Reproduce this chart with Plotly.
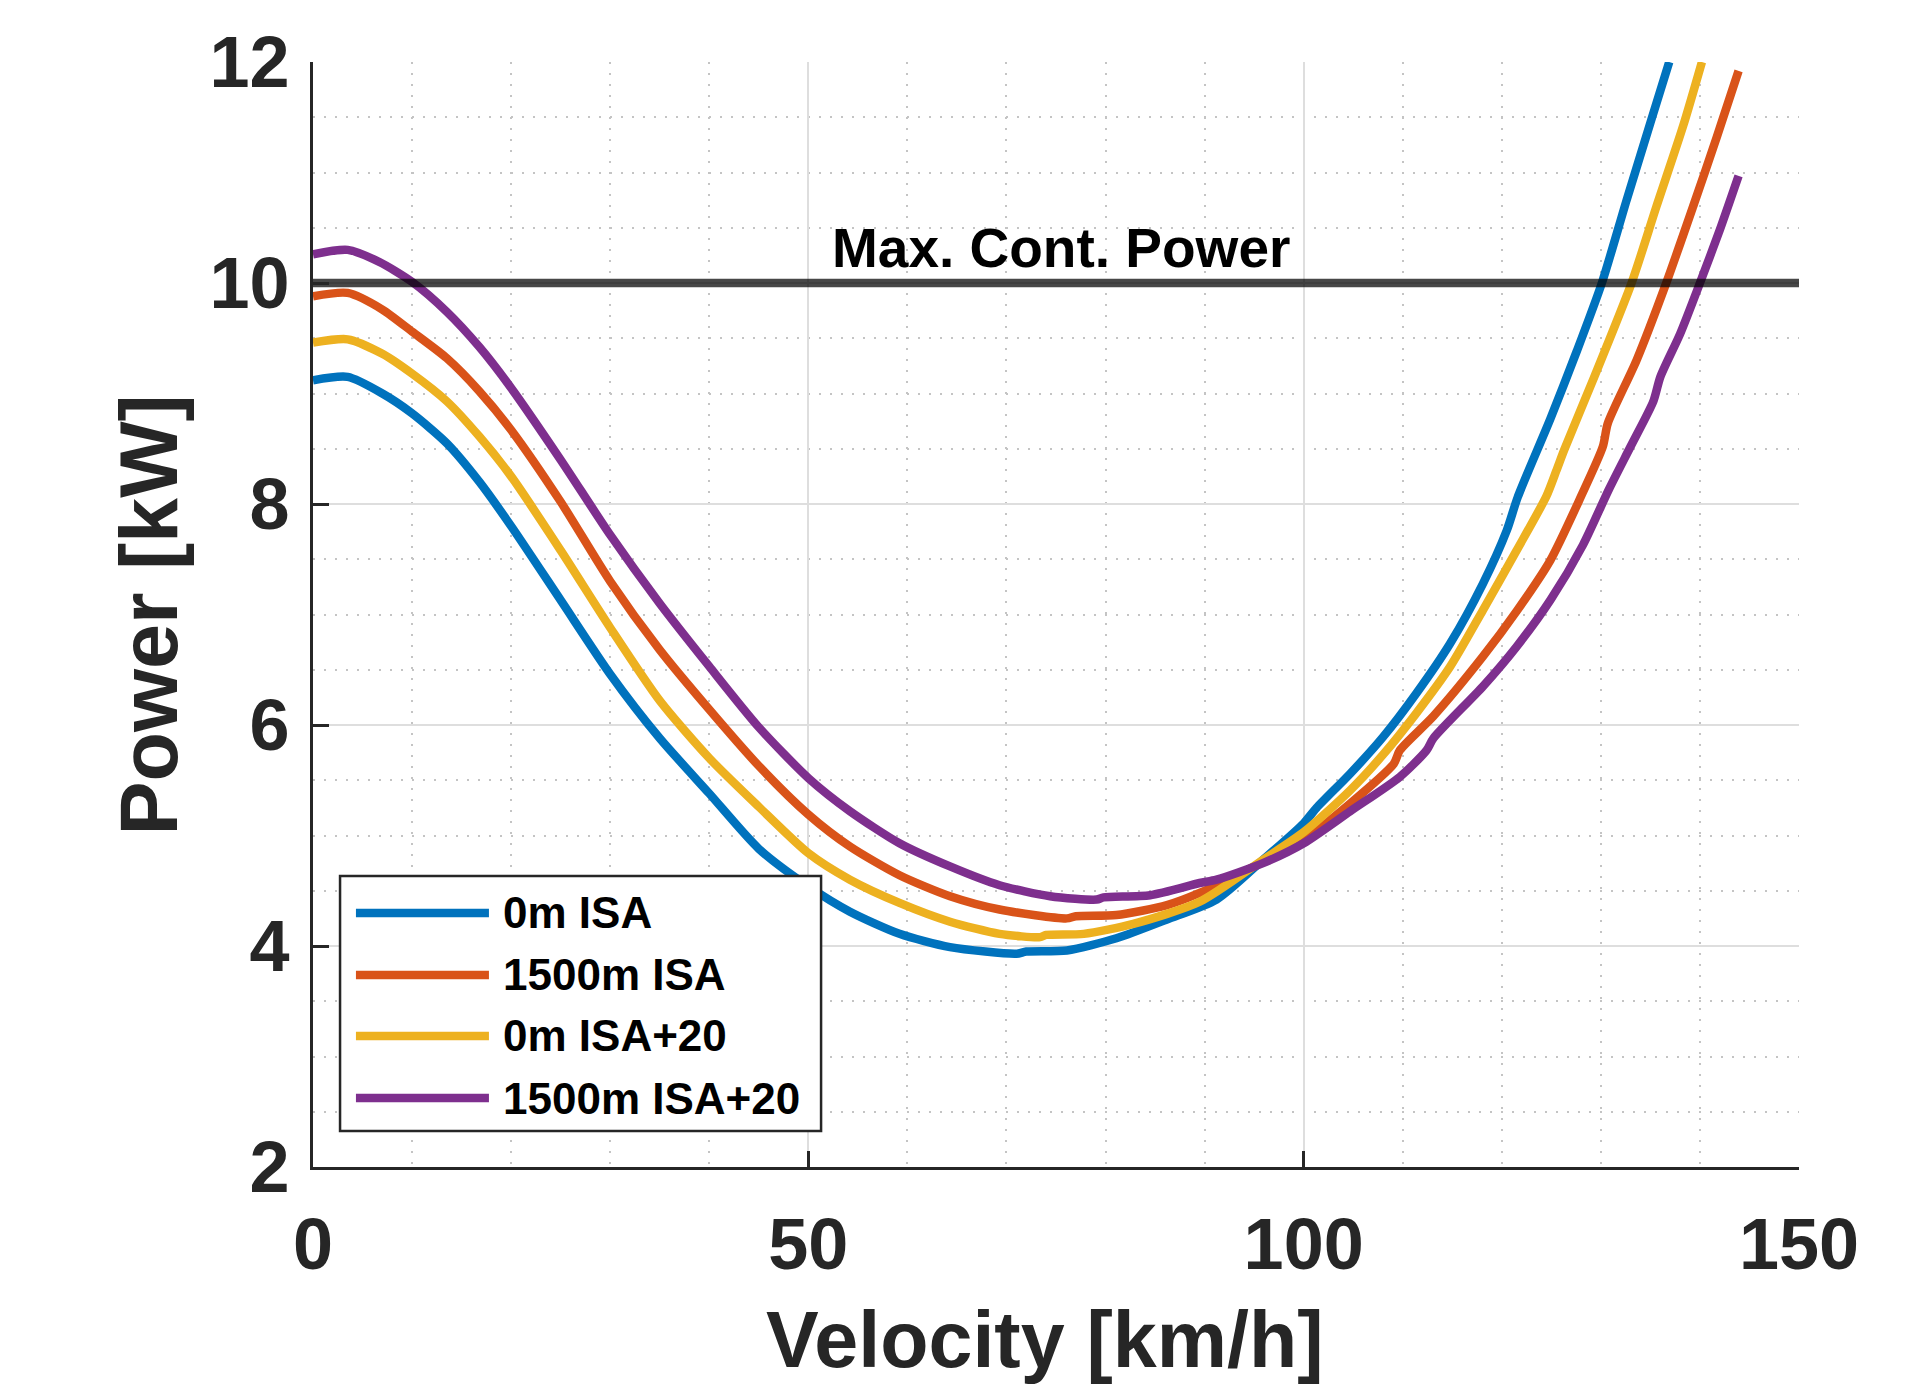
import plotly.graph_objects as go

# ---------------- data ----------------
series_names = ["0m ISA", "1500m ISA", "0m ISA+20", "1500m ISA+20"]
series_colors = ["#0072BD", "#D95319", "#EDB120", "#7E2F8E"]

v_0m_isa = [0, 3.5, 7, 10, 13.5, 16.8, 20, 25, 30, 35, 40, 45, 50,
            54.2, 59.2, 64.3, 71.0, 72.0, 76.1, 81.1, 86.2, 91.2, 95.9, 100, 101.3,
            104.7, 108, 111.4, 114.8, 118.1, 120.5, 121.6, 124.9, 127.6, 130.1,
            132.6, 135.0, 136.9]
p_0m_isa = [9.12, 9.15, 9.00, 8.82, 8.55, 8.20, 7.80, 7.13, 6.46, 5.88, 5.38, 4.88, 4.54,
            4.31, 4.11, 3.99, 3.93, 3.95, 3.96, 4.07, 4.24, 4.42,
            4.78, 5.11, 5.25, 5.56, 5.89, 6.29, 6.74, 7.28, 7.76, 8.06, 8.77, 9.39,
            10.0, 10.75, 11.45, 12.0]

v_1500m_isa = [0, 3.5, 7, 10, 13.5, 16.8, 20, 25, 30, 35, 40, 45,
               50, 54.2, 59.2, 64.3, 69.3, 76.1, 77.0, 81.1, 86.2, 89.5, 95, 100,
               104.7, 109.1, 109.7, 113.1, 118.1, 121.5, 124.9, 128.0, 130.2, 130.7,
               133.6, 136.6, 139.3, 141.7, 143.9]
p_1500m_isa = [9.88, 9.91, 9.76, 9.56, 9.32, 9.02, 8.67, 8.02, 7.30, 6.68, 6.14, 5.63,
               5.19, 4.90, 4.64, 4.45, 4.33, 4.25, 4.27, 4.28, 4.37,
               4.48, 4.72, 4.96, 5.29, 5.65, 5.77, 6.08, 6.62, 7.03, 7.49, 8.07, 8.52,
               8.73, 9.30, 10.0, 10.69, 11.32, 11.92]

v_0m_isa20 = [0, 3.5, 7, 10, 13.5, 16.8, 20, 25, 30, 35, 40, 45, 50,
              54.2, 59.2, 64.3, 69.3, 73.4, 74.0, 77.8, 82.8, 89.5, 95.9, 100, 104.7,
              108, 111.4, 114.8, 118.1, 121.5, 124.5, 125.5, 126.3, 129.2, 133.1,
              135.6, 138.3, 140.2]
p_0m_isa20 = [9.46, 9.49, 9.36, 9.18, 8.93, 8.61, 8.25, 7.58, 6.88, 6.22, 5.70, 5.26,
              4.84, 4.60, 4.39, 4.22, 4.11, 4.08, 4.10, 4.11, 4.20,
              4.40, 4.78, 5.03, 5.41, 5.73, 6.11, 6.53, 7.04, 7.58, 8.07, 8.30, 8.49,
              9.12, 10.0, 10.69, 11.42, 12.0]

v_1500m_isa20 = [0, 3.5, 6.7, 10, 13.5, 16.8, 20, 25, 30, 35, 40, 45,
                 50, 54.2, 59.2, 64.3, 69.3, 74.4, 79.1, 79.8, 84.5, 89.5, 91.2, 95.9,
                 100, 104.7, 109.7, 112.4, 113.1, 118.1, 121.5, 124.9, 128.2, 130.8,
                 133.0, 135.3, 136.0, 138.0, 140.0, 142.0, 143.9]
p_1500m_isa20 = [10.26, 10.30, 10.19, 10.01, 9.74, 9.42, 9.05, 8.40, 7.72,
                 7.10, 6.53, 5.98, 5.52, 5.22, 4.93, 4.72, 4.55, 4.45, 4.42, 4.44,
                 4.46, 4.57, 4.60, 4.75, 4.93, 5.22, 5.53, 5.77, 5.88, 6.35, 6.71, 7.13,
                 7.63, 8.13, 8.52, 8.93, 9.15, 9.54, 10.0, 10.48, 10.97]

max_power_v = [0, 150]
max_power_p = [10, 10]
max_power_label = "Max. Cont. Power"
max_power_label_pos = (75.5, 10.32)

x_ticks = [0, 50, 100, 150]
y_ticks = [2, 4, 6, 8, 10, 12]
x_title = "Velocity [km/h]"
y_title = "Power [kW]"

series_v = [v_0m_isa, v_1500m_isa, v_0m_isa20, v_1500m_isa20]
series_p = [p_0m_isa, p_1500m_isa, p_0m_isa20, p_1500m_isa20]

# ---------------- figure ----------------
FONT = "Liberation Sans, Arial, Helvetica, sans-serif"
AXC = "#262626"
LW = 8.5

fig = go.Figure()
for name, v, p, c in zip(series_names, series_v, series_p, series_colors):
    fig.add_trace(go.Scatter(x=v, y=p, mode="lines", name=name,
                             line=dict(color=c, width=LW, shape="spline", smoothing=0.7),
                             showlegend=False))

fig.add_trace(go.Scatter(x=max_power_v, y=max_power_p, mode="lines",
                         line=dict(color="rgba(0,0,0,0.72)", width=8.5),
                         showlegend=False, name=max_power_label))

fig.add_annotation(x=max_power_label_pos[0], y=max_power_label_pos[1],
                   xref="x", yref="y", text=max_power_label, showarrow=False,
                   font=dict(family=FONT, size=55, color="black", weight="bold"))

# manual legend (MATLAB style: long line samples)
L_X0, L_X1, L_Y0, L_Y1 = 0.0182, 0.3419, 0.0326, 0.2633
fig.add_shape(type="rect", xref="paper", yref="paper", x0=L_X0, x1=L_X1, y0=L_Y0, y1=L_Y1,
              line=dict(color=AXC, width=2.5), fillcolor="white", layer="above")
entry_y = [0.2299, 0.1738, 0.1186, 0.0624]
for name, c, yy in zip(series_names, series_colors, entry_y):
    fig.add_shape(type="line", xref="paper", yref="paper", x0=0.0289, x1=0.1184,
                  y0=yy, y1=yy, line=dict(color=c, width=LW), layer="above")
    fig.add_annotation(xref="paper", yref="paper", x=0.1265, y=yy, text=name,
                       showarrow=False, xanchor="left", yanchor="middle",
                       font=dict(family=FONT, size=44, color="black", weight="bold"))

# axis titles
fig.add_annotation(xref="paper", yref="paper", x=0.4926, y=-0.1565, text=x_title,
                   showarrow=False, xanchor="center", yanchor="middle",
                   font=dict(family=FONT, size=79, color=AXC, weight="bold"))
fig.add_annotation(xref="paper", yref="paper", x=-0.1104, y=0.5, text=y_title,
                   showarrow=False, xanchor="center", yanchor="middle", textangle=-90,
                   font=dict(family=FONT, size=81, color=AXC, weight="bold"))

axis_common = dict(
    showgrid=True, gridcolor="#dedede", gridwidth=2,
    ticks="inside", ticklen=16, tickwidth=2.5, tickcolor=AXC,
    showline=True, linecolor=AXC, linewidth=3, mirror=False,
    zeroline=False, automargin=False,
    tickfont=dict(family=FONT, size=72, color=AXC, weight="bold"),
)

fig.update_xaxes(range=[0, 150], tickvals=x_ticks, ticktext=[str(t) for t in x_ticks],
                 minor=dict(dtick=10, tick0=0, showgrid=True, gridcolor="#c4c4c4",
                            griddash="2px,9px", gridwidth=2),
                 ticklabelstandoff=13,
                 **axis_common)
fig.update_yaxes(range=[2, 12], tickvals=y_ticks, ticktext=[str(t) for t in y_ticks],
                 minor=dict(dtick=0.5, tick0=0, showgrid=True, gridcolor="#c4c4c4",
                            griddash="2px,9px", gridwidth=2),
                 ticklabelstandoff=6,
                 **axis_common)

# page has an 8px body margin: size the figure so the plot area lands where the reference has it
fig.update_layout(
    width=1919, height=1381,
    margin=dict(l=305, r=128, t=54, b=222),
    plot_bgcolor="white", paper_bgcolor="white",
    showlegend=False,
    font=dict(family=FONT, color=AXC),
)

fig.write_html("out.html")
